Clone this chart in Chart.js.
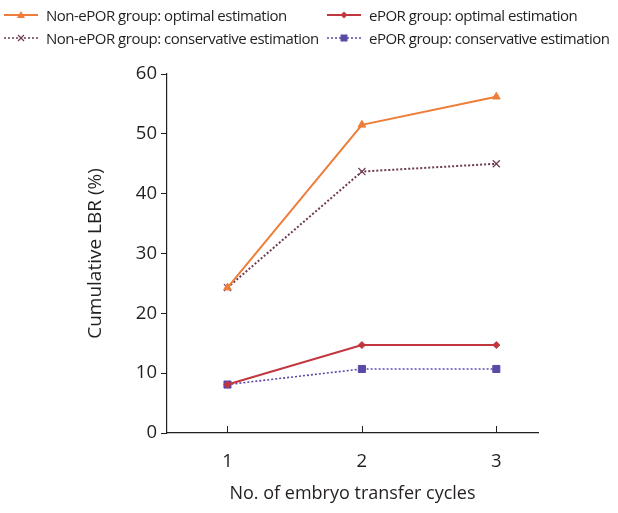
<!DOCTYPE html>
<html><head><meta charset="utf-8">
<script src="https://cdn.jsdelivr.net/npm/chart.js@4/dist/chart.umd.min.js"></script>
<style>
html,body{margin:0;padding:0;background:#fff;}
#wrap{position:relative;width:618px;height:513px;}
#legend{position:absolute;left:0;top:0;width:618px;font-family:"Open Sans",sans-serif;font-size:15px;color:#231f20;letter-spacing:-0.5px;}
.item{position:absolute;display:flex;align-items:center;white-space:nowrap;}
.item svg{margin-right:8px;}
</style></head>
<body><div id="wrap"><canvas id="c" width="618" height="513"></canvas><div id="legend"></div></div>
<script>
const categories = [1, 2, 3];
const nonEporOptimal = [24.3, 51.5, 56.2];
const nonEporConservative = [24.3, 43.7, 45.0];
const eporOptimal = [8.1, 14.7, 14.7];
const eporConservative = [8.1, 10.7, 10.7];
const yTicks = [0, 10, 20, 30, 40, 50, 60];
const seriesNames = ["Non-ePOR group: optimal estimation","ePOR group: optimal estimation","Non-ePOR group: conservative estimation","ePOR group: conservative estimation"];

const FONT = '"Open Sans", sans-serif';
const TXT = '#231f20';
const pts = arr => arr.map((v,i)=>({x:categories[i], y:v}));

const datasets = [
 {label:seriesNames[0], data:pts(nonEporOptimal), borderColor:'#ee7d3a', backgroundColor:'#ee7d3a', borderWidth:2, pointStyle:'triangle', pointRadius:4.5, pointBorderWidth:1},
 {label:seriesNames[2], data:pts(nonEporConservative), borderColor:'#6e3a52', backgroundColor:'#6e3a52', borderWidth:2, borderDash:[2,2], pointStyle:'cross', rotation:45, pointRadius:5, pointBorderWidth:1.2},
 {label:seriesNames[1], data:pts(eporOptimal), borderColor:'#c2363f', backgroundColor:'#c2363f', borderWidth:2, pointStyle:'rectRot', pointRadius:3.5, pointBorderWidth:1},
 {label:seriesNames[3], data:pts(eporConservative), borderColor:'#5a4aa6', backgroundColor:'#5a4aa6', borderWidth:1.6, borderDash:[2,2], pointStyle:'rect', pointRadius:5, pointBorderWidth:1},
];
datasets[3].order = 2; datasets[2].order = 1;

const innerTicks = {
 id:'innerTicks',
 afterDraw(chart){
  const ctx = chart.ctx, xs = chart.scales.x, ys = chart.scales.y;
  ctx.save(); ctx.strokeStyle = '#231f20'; ctx.lineWidth = 1;
  categories.forEach(c=>{ const px = Math.round(xs.getPixelForValue(c))+0.5;
    ctx.beginPath(); ctx.moveTo(px, ys.bottom); ctx.lineTo(px, ys.bottom-7); ctx.stroke(); });
  ctx.restore();
 }
};

new Chart(document.getElementById('c'), {
 type:'line',
 data:{datasets},
 options:{
  responsive:false, animation:false, devicePixelRatio:1,
  layout:{padding:{top:74, right:80, left:80, bottom:4}},
  plugins:{legend:{display:false}, tooltip:{enabled:false}},
  scales:{
   x:{type:'linear', min:0.55, max:3.31,
      afterBuildTicks(s){ s.ticks = categories.map(v=>({value:v})); },
      afterFit(s){ s.height = 76; },
      grid:{display:false},
      border:{display:true, color:'#231f20', width:1.2},
      ticks:{font:{family:FONT, size:18.5}, color:TXT, padding:10},
      title:{display:true, text:'No. of embryo transfer cycles', font:{family:FONT, size:18}, color:TXT, padding:{top:1}}
   },
   y:{min:0, max:60,
      afterBuildTicks(s){ s.ticks = yTicks.map(v=>({value:v})); },
      afterFit(s){ s.width = 87; },
      grid:{drawOnChartArea:false, drawTicks:true, tickLength:6, color:'#231f20'},
      border:{display:true, color:'#231f20', width:1.2},
      ticks:{font:{family:FONT, size:18.5}, color:TXT, padding:4},
      title:{display:true, text:'Cumulative LBR (%)', font:{family:FONT, size:19}, color:TXT, padding:{bottom:0}}
   }
  }
 },
 plugins:[innerTicks]
});

// HTML legend
const legendItems = [
 {name:seriesNames[0], ds:datasets[0], x:4, y:15},
 {name:seriesNames[1], ds:datasets[2], x:327, y:15},
 {name:seriesNames[2], ds:datasets[1], x:4, y:38},
 {name:seriesNames[3], ds:datasets[3], x:327, y:38},
];
function marker(ds){
 const c = ds.borderColor;
 switch(ds.pointStyle){
  case 'triangle': return `<polygon points="17,3 21,10 13,10" fill="${c}"/>`;
  case 'cross': return `<path d="M14,4 L20,10 M20,4 L14,10" stroke="${c}" stroke-width="1.2"/>`;
  case 'rectRot': return `<polygon points="17,3.5 20.5,7 17,10.5 13.5,7" fill="${c}"/>`;
  case 'rect': return `<rect x="13.5" y="3.5" width="7" height="7" fill="${c}"/>`;
 }
}
const lg = document.getElementById('legend');
legendItems.forEach(it=>{
 const dash = it.ds.borderDash ? 'stroke-dasharray="2,2"' : '';
 const el = document.createElement('div');
 el.className='item'; el.style.left = it.x+'px'; el.style.top = (it.y-10)+'px';
 el.innerHTML = `<svg width="34" height="14"><line x1="0" y1="7" x2="34" y2="7" stroke="${it.ds.borderColor}" stroke-width="${it.ds.borderDash?1.3:1.8}" ${dash}/>${marker(it.ds)}</svg><span>${it.name}</span>`;
 lg.appendChild(el);
});
</script></body></html>
